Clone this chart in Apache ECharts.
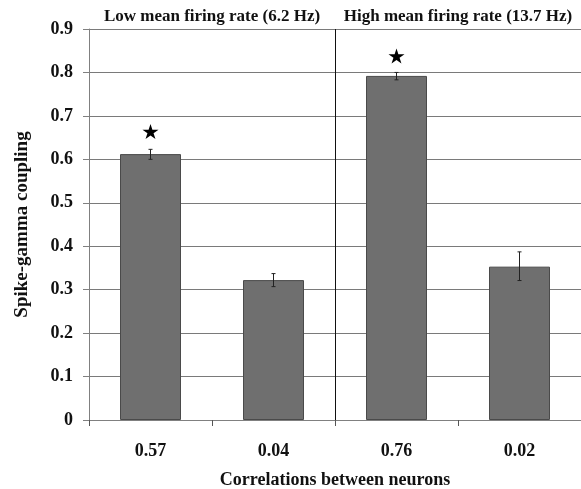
<!DOCTYPE html>
<html>
<head>
<meta charset="utf-8">
<script src="https://cdn.jsdelivr.net/npm/echarts@6/dist/echarts.min.js"></script>
<style>
  html, body { margin: 0; padding: 0; background: #fff; }
  #chart { width: 581px; height: 489px; }
</style>
</head>
<body>
<div id="chart"></div>
<script>
// data
const correlations = ['0.57', '0.04', '0.76', '0.02']
const groups = ['Low mean firing rate (6.2 Hz)', 'High mean firing rate (13.7 Hz)']
const groupSplit = [[1, 2]] // divider sits between these two categories
const coupling = [0.612, 0.322, 0.792, 0.353]
const errLow = [0.600, 0.307, 0.783, 0.321]
const errHigh = [0.623, 0.337, 0.800, 0.387]
const starAt = [0.664, null, 0.838, null]

const font = 'Liberation Serif'
const starPath = 'path://M100 0 L122.5 69.1 L195.1 69.1 L136.3 111.8 L158.8 180.9 L100 138.2 L41.2 180.9 L63.7 111.8 L4.9 69.1 L77.5 69.1 Z'

const chart = echarts.init(document.getElementById('chart'))

const option = {
  animation: false,
  grid: { left: 89, right: 0, top: 29, bottom: 69, outerBoundsMode: 'none' },
  xAxis: [
    {
      type: 'category',
      data: correlations,
      name: 'Correlations between neurons',
      nameLocation: 'middle',
      nameGap: 51,
      nameTextStyle: { fontFamily: font, fontWeight: 'bold', fontSize: 18, color: '#111' },
      axisLine: { lineStyle: { color: '#808080', width: 1 } },
      axisTick: { show: true, length: 6, lineStyle: { color: '#555' } },
      axisLabel: { margin: 22, fontFamily: font, fontWeight: 'bold', fontSize: 18, color: '#111' }
    },
    {
      // group headers on top
      type: 'category',
      position: 'top',
      data: groups,
      axisLine: { show: false },
      axisTick: { show: false },
      axisLabel: { interval: 0, margin: 4, fontFamily: font, fontWeight: 'bold', fontSize: 17, color: '#111' }
    }
  ],
  yAxis: {
    type: 'value',
    min: 0,
    max: 0.9,
    interval: 0.1,
    name: 'Spike-gamma coupling',
    nameLocation: 'middle',
    nameGap: 57,
    nameRotate: 90,
    nameTextStyle: { fontFamily: font, fontWeight: 'bold', fontSize: 19, color: '#111' },
    axisLine: { show: true, lineStyle: { color: '#808080', width: 1 } },
    axisTick: { show: true, inside: false, length: 6, lineStyle: { color: '#808080' } },
    axisLabel: {
      margin: 16,
      fontFamily: font,
      fontWeight: 'bold',
      fontSize: 18,
      color: '#111',
      formatter: (v) => (v === 0 ? '0' : v.toFixed(1))
    },
    splitLine: { lineStyle: { color: '#7a7a7a', width: 1 } }
  },
  series: [
    {
      type: 'bar',
      data: coupling,
      barWidth: 61,
      itemStyle: { color: '#6f6f6f', borderColor: '#4a4a4a', borderWidth: 1 }
    },
    {
      // vertical divider between the two firing-rate groups
      type: 'custom',
      data: groupSplit,
      silent: true,
      z: 3,
      renderItem: (params, api) => {
        const a = api.coord([api.value(0), 0])
        const b = api.coord([api.value(1), 0.9])
        const x = Math.round((a[0] + b[0]) / 2) + 0.5
        return {
          type: 'line',
          shape: { x1: x, y1: a[1], x2: x, y2: b[1] },
          style: { stroke: '#111', lineWidth: 1 }
        }
      }
    },
    {
      type: 'custom',
      data: coupling.map((v, i) => [i, errLow[i], errHigh[i]]),
      z: 5,
      renderItem: (params, api) => {
        const lo = api.coord([api.value(0), api.value(1)])
        const hi = api.coord([api.value(0), api.value(2)])
        const x = lo[0]
        const cap = 2
        const st = { stroke: '#222', lineWidth: 1 }
        return {
          type: 'group',
          children: [
            { type: 'line', shape: { x1: x, y1: lo[1], x2: x, y2: hi[1] }, style: st },
            { type: 'line', shape: { x1: x - cap, y1: lo[1], x2: x + cap, y2: lo[1] }, style: st },
            { type: 'line', shape: { x1: x - cap, y1: hi[1], x2: x + cap, y2: hi[1] }, style: st }
          ]
        }
      }
    },
    {
      type: 'scatter',
      data: starAt,
      symbol: starPath,
      symbolSize: [16, 15],
      itemStyle: { color: '#000', opacity: 1 }
    }
  ]
}

chart.setOption(option)
</script>
</body>
</html>
